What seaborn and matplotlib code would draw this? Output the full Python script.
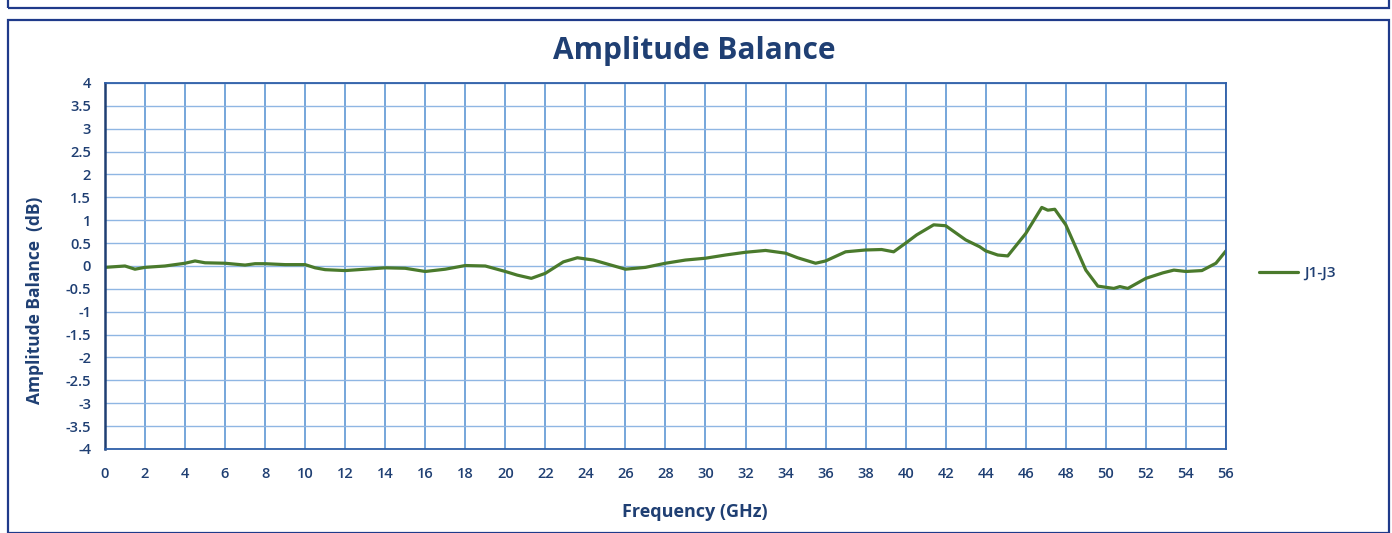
import pandas as pd
import matplotlib.pyplot as plt
import seaborn as sns
from matplotlib.patches import Rectangle

# Values (frequency in GHz, balance in dB)
freq_ghz = [0, 1, 1.5, 2, 3, 4, 4.5, 5, 6, 7, 7.5, 8, 9, 10, 10.5, 11, 12, 13, 14, 15,
            16, 17, 18, 19, 20, 20.6, 21.3, 22, 22.9, 23.6, 24.4, 26, 27, 28, 29, 30,
            31, 32, 33, 34, 34.6, 35.5, 36, 37, 38, 38.8, 39.4, 40, 40.55, 41.4, 42,
            43, 43.7, 44, 44.6, 45.1, 46, 46.8, 47.1, 47.45, 48, 49, 49.6, 50.4, 50.7,
            51.1, 52, 52.85, 53.4, 54, 54.8, 55.5, 56]
balance_db = [-0.03, 0.0, -0.07, -0.03, 0.0, 0.06, 0.11, 0.07, 0.06, 0.02, 0.05, 0.05,
              0.03, 0.03, -0.04, -0.08, -0.1, -0.07, -0.04, -0.05, -0.12, -0.07, 0.01,
              0.0, -0.12, -0.2, -0.27, -0.16, 0.09, 0.18, 0.13, -0.07, -0.03, 0.06, 0.13,
              0.17, 0.24, 0.3, 0.34, 0.28, 0.18, 0.06, 0.11, 0.31, 0.35, 0.36, 0.31, 0.5,
              0.68, 0.9, 0.88, 0.57, 0.42, 0.33, 0.24, 0.22, 0.71, 1.28, 1.22, 1.24, 0.9,
              -0.09, -0.44, -0.49, -0.45, -0.49, -0.27, -0.15, -0.09, -0.12, -0.1, 0.06,
              0.33]
series_name = "J1-J3"

x_ticks = list(range(0, 57, 2))
y_ticks = [v / 2 for v in range(-8, 9)]

df = pd.DataFrame({"freq": freq_ghz, "bal": balance_db, "series": series_name})

sns.set_style("white")
plt.rcParams['font.family'] = ['Open Sans', 'DejaVu Sans']

navy = "#1f3f73"
grid_blue = "#6a9fd8"

fig = plt.figure(figsize=(13.92, 5.33), dpi=100)
ax = fig.add_axes([0.0754, 0.1576, 0.8053, 0.6867])

sns.lineplot(data=df, x="freq", y="bal", hue="series", palette=["#4a7a2c"],
             linewidth=2.3, ax=ax)

ax.set_xlim(0, 56)
ax.set_ylim(-4, 4)
ax.set_xticks(x_ticks)
ax.set_yticks(y_ticks)
ax.set_yticklabels([f"{v:g}" for v in y_ticks])
ax.tick_params(length=0, labelsize=10.5, labelcolor=navy)
ax.tick_params(axis="x", pad=13)
ax.tick_params(axis="y", pad=10)
for lbl in ax.get_xticklabels() + ax.get_yticklabels():
    lbl.set_fontweight("semibold")

ax.grid(True, axis="x", color=grid_blue, linewidth=1.3)
ax.grid(True, axis="y", color="#8fb6e3", linewidth=1.0)
for side in ax.spines.values():
    side.set_color("#2e5fa8")
    side.set_linewidth(1.3)
ax.spines["left"].set_color(navy)
ax.spines["left"].set_linewidth(1.8)

ax.set_xlabel("Frequency (GHz)", fontsize=13, fontweight="bold", color=navy)
ax.set_ylabel("Amplitude Balance  (dB)", fontsize=12.5, fontweight="bold", color=navy)
# Excel puts the axis titles a little off-centre
ax.xaxis.set_label_coords(0.526, -0.148)
ax.yaxis.set_label_coords(-0.0545, 0.405)
fig.text(0.499, 0.905, "Amplitude Balance", ha="center", va="center",
         fontsize=21.5, fontweight="bold", color=navy)

leg = ax.legend(loc="center left", bbox_to_anchor=(1.017, 0.48), frameon=False,
                handlelength=2.6, handletextpad=0.4, fontsize=11)
for t in leg.get_texts():
    t.set_color(navy)
    t.set_fontweight("semibold")

# outer chart frame
fig.patches.append(Rectangle((8 / 1392, 0), 1381 / 1392, 1 - 20 / 533,
                             transform=fig.transFigure, fill=False,
                             edgecolor="#1f3a8a", linewidth=1.6))
fig.patches.append(Rectangle((8 / 1392, 1 - 8 / 533), 1381 / 1392, 10 / 533,
                             transform=fig.transFigure, fill=False,
                             edgecolor="#1f3a8a", linewidth=1.6))

fig.savefig("out.png", dpi=100)
